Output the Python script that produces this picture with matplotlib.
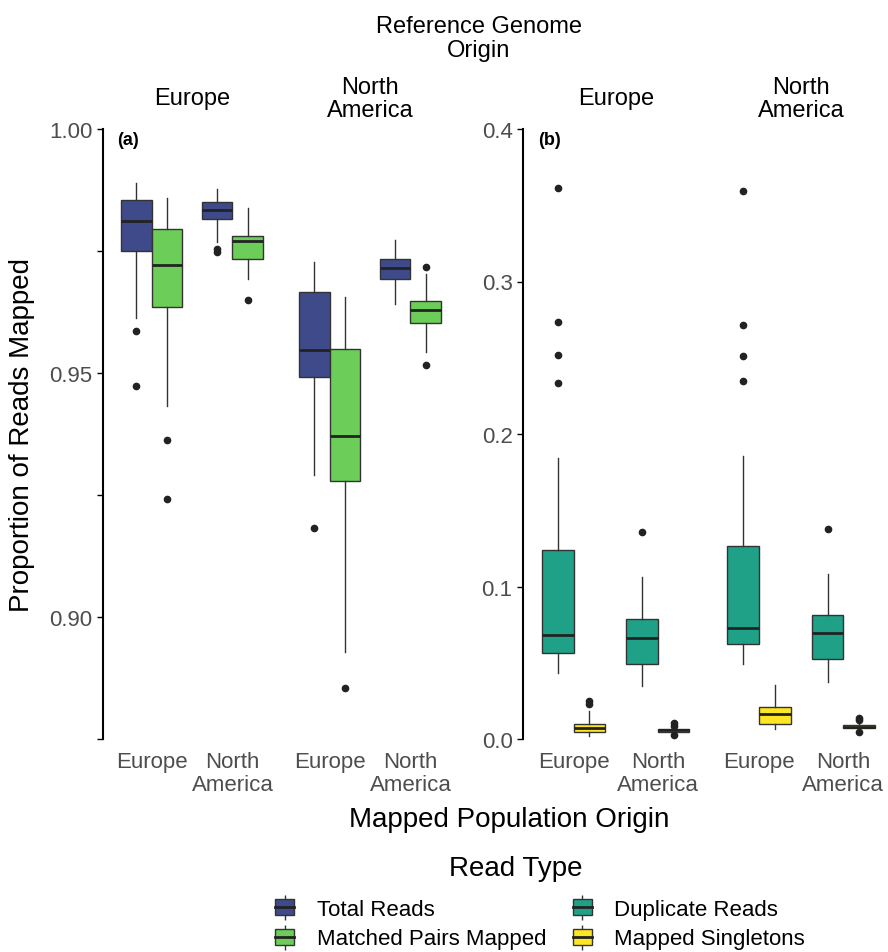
import matplotlib
matplotlib.use("Agg")
import matplotlib.pyplot as plt
from matplotlib.patches import Patch
from matplotlib.lines import Line2D
from matplotlib.legend_handler import HandlerTuple

plt.rcParams['font.family'] = ['Liberation Sans', 'DejaVu Sans']

# x categories (mapped population origin) inside each reference genome facet
mapped_labels = ["Europe", "North\nAmerica", "Europe", "North\nAmerica"]
ref_labels = ["Europe", "North\nAmerica"]

# box stats per group: whislo, q1, median, q3, whishi
total_q = [
    [0.9612, 0.9751, 0.9811, 0.9855, 0.9889],
    [0.9768, 0.9816, 0.9833, 0.9850, 0.9877],
    [0.9292, 0.9492, 0.9547, 0.9666, 0.9728],
    [0.9641, 0.9693, 0.9716, 0.9734, 0.9773],
]
total_out = [[0.9587, 0.9473], [0.9755, 0.9747], [0.9182], []]

matched_q = [
    [0.9433, 0.9635, 0.9722, 0.9795, 0.9859],
    [0.9693, 0.9733, 0.9770, 0.9781, 0.9838],
    [0.8928, 0.9279, 0.9370, 0.9549, 0.9656],
    [0.9544, 0.9602, 0.9629, 0.9647, 0.9703],
]
matched_out = [[0.9363, 0.9241], [0.9650], [0.8854], [0.9718, 0.9516]]

dup_q = [
    [0.0434, 0.0563, 0.0682, 0.1239, 0.1842],
    [0.0346, 0.0495, 0.0664, 0.0789, 0.1063],
    [0.0495, 0.0625, 0.0728, 0.1263, 0.1853],
    [0.0377, 0.0522, 0.0693, 0.0813, 0.1081],
]
dup_out = [[0.3614, 0.2737, 0.2517, 0.2333], [0.1359],
           [0.3592, 0.2714, 0.2513, 0.2346], [0.1377]]

single_q = [
    [0.0022, 0.0043, 0.0072, 0.0101, 0.0182],
    [0.0040, 0.0047, 0.0057, 0.0066, 0.0076],
    [0.0066, 0.0101, 0.0164, 0.0208, 0.0357],
    [0.0060, 0.0069, 0.0080, 0.0089, 0.0100],
]
single_out = [[0.0247, 0.0230], [0.0105, 0.0088, 0.0028], [],
              [0.0140, 0.0123, 0.0044]]

colors = {"Total Reads": "#3E4A89", "Matched Pairs Mapped": "#6CCE59",
          "Duplicate Reads": "#1FA187", "Mapped Singletons": "#FDE725"}

positions = [1, 2, 3.2, 4.2]   # two facets of two categories, no gap
facet_centers = [1.5, 3.7]
bw = 0.375


def make_stats(q, out):
    return [dict(whislo=a[0], q1=a[1], med=a[2], q3=a[3], whishi=a[4], fliers=f)
            for a, f in zip(q, out)]


def draw_boxes(ax, q, out, offset, color):
    ax.bxp(make_stats(q, out), positions=[p + offset for p in positions],
           widths=bw, patch_artist=True, showcaps=False, manage_ticks=False,
           boxprops=dict(facecolor=color, edgecolor="#333333", linewidth=1.0),
           medianprops=dict(color="#222222", linewidth=2.0),
           whiskerprops=dict(color="#333333", linewidth=1.0),
           flierprops=dict(marker="o", markerfacecolor="#222222",
                           markeredgecolor="#222222", markersize=4.5))


def style_axis(ax):
    for s in ["top", "right", "bottom"]:
        ax.spines[s].set_visible(False)
    ax.spines["left"].set_linewidth(1.5)
    ax.spines["left"].set_color("black")
    ax.set_xticks(positions)
    ax.set_xticklabels(mapped_labels, fontsize=16, color="#4D4D4D", linespacing=1.1)
    ax.tick_params(axis="x", length=0, pad=9)
    ax.tick_params(axis="y", length=4.5, width=1.0, color="black",
                   labelsize=16, labelcolor="#4D4D4D", pad=3)
    for c, lab in zip(facet_centers, ref_labels):
        ax.text(c, 1.050, lab, transform=ax.get_xaxis_transform(), ha="center",
                va="center", fontsize=17, linespacing=1.1, multialignment="center")


fig = plt.figure(figsize=(8.88, 9.53), dpi=100)

# panel (a)
ax1 = fig.add_axes([103 / 888, 213 / 953, 356 / 888, 610 / 953])
draw_boxes(ax1, total_q, total_out, -bw / 2, colors["Total Reads"])
draw_boxes(ax1, matched_q, matched_out, bw / 2, colors["Matched Pairs Mapped"])
ax1.set_xlim(0.4, 4.8)
ax1.set_ylim(0.875, 1.0)
ax1.set_yticks([0.875, 0.90, 0.925, 0.95, 0.975, 1.00])
ax1.set_yticklabels(["", "0.90", "", "0.95", "", "1.00"])
style_axis(ax1)
ax1.text(0.04, 0.982, "(a)", transform=ax1.transAxes, fontsize=13,
         fontweight="bold", ha="left", va="center")

# panel (b)
ax2 = fig.add_axes([523 / 888, 213 / 953, 365 / 888, 610 / 953])
draw_boxes(ax2, dup_q, dup_out, -bw / 2, colors["Duplicate Reads"])
draw_boxes(ax2, single_q, single_out, bw / 2, colors["Mapped Singletons"])
ax2.set_xlim(0.4, 4.73)
ax2.set_ylim(0, 0.4)
ax2.set_yticks([0.0, 0.1, 0.2, 0.3, 0.4])
ax2.set_yticklabels(["0.0", "0.1", "0.2", "0.3", "0.4"])
style_axis(ax2)
ax2.text(0.041, 0.982, "(b)", transform=ax2.transAxes, fontsize=13,
         fontweight="bold", ha="left", va="center")

fig.text(479 / 888, 1 - 39 / 953, "Reference Genome\nOrigin", ha="center",
         va="center", fontsize=17, linespacing=1.1)
fig.text(22 / 888, 1 - 435 / 953, "Proportion of Reads Mapped", rotation=90,
         ha="center", va="center", fontsize=20)
fig.text(509 / 888, 1 - 820 / 953, "Mapped Population Origin", ha="center",
         va="center", fontsize=20)
fig.text(516 / 888, 1 - 869 / 953, "Read Type", ha="center", va="center",
         fontsize=20)

# legend with box-shaped keys
handles = []
for name, c in colors.items():
    handles.append((Line2D([], [], color="#333333", marker="|", markersize=18,
                           markeredgewidth=1.0, linestyle="none"),
                    Patch(facecolor=c, edgecolor="#333333", linewidth=1.0),
                    Line2D([], [], color="#222222", linewidth=2.0)))
leg = fig.legend(handles, list(colors.keys()), ncol=2, loc="center",
                 bbox_to_anchor=(540 / 888, 1 - 925 / 953), frameon=False,
                 fontsize=16, handler_map={tuple: HandlerTuple(ndivide=1)},
                 handlelength=0.85, handleheight=0.75, handletextpad=1.0,
                 columnspacing=1.2, labelspacing=0.4, borderpad=0)

plt.savefig("out.png", dpi=100)
